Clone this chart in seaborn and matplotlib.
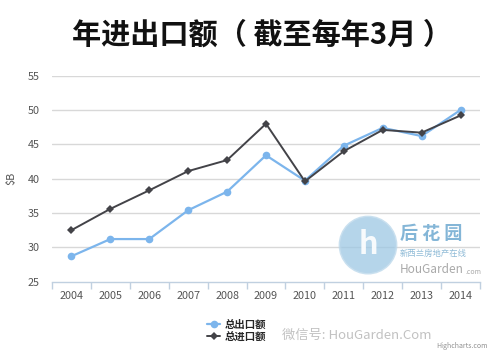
import numpy as np
import pandas as pd
import matplotlib
matplotlib.use("Agg")
import matplotlib.pyplot as plt
import seaborn as sns
from matplotlib.patches import Ellipse

# ── Data (NZ$ billions, year to March) ──
years = ["2004", "2005", "2006", "2007", "2008", "2009",
         "2010", "2011", "2012", "2013", "2014"]
exports = [28.7, 31.2, 31.2, 35.4, 38.1, 43.4, 39.7, 44.8, 47.4, 46.2, 50.0]
imports = [32.5, 35.6, 38.3, 41.1, 42.7, 48.0, 39.6, 44.0, 47.1, 46.7, 49.2]
series_names = ["总出口额", "总进口额"]
y_ticks = [25, 30, 35, 40, 45, 50, 55]

df = pd.DataFrame({"year": years, "exports": exports, "imports": imports})
df["pos"] = np.arange(len(years))

sns.set_theme(style="white")
plt.rcParams["font.family"] = ["Noto Sans CJK SC", "DejaVu Sans"]

fig = plt.figure(figsize=(5.0, 3.62), dpi=100)
ax = fig.add_axes([0.104, 0.222, 0.856, 0.569])

BLUE = "#7cb5ec"
DARK = "#434348"

sns.lineplot(data=df, x="pos", y="exports", ax=ax, color=BLUE, lw=1.6,
             marker="o", markersize=5.5, markeredgewidth=0, label=series_names[0])
sns.lineplot(data=df, x="pos", y="imports", ax=ax, color=DARK, lw=1.4,
             marker="D", markersize=4.2, markeredgewidth=0, label=series_names[1])

ax.set_xlim(-0.5, len(years) - 0.5)
ax.set_ylim(25, 55)
ax.set_yticks(y_ticks)
ax.set_yticklabels([str(t) for t in y_ticks])
ax.set_xticks(df["pos"])
ax.set_xticklabels(years)
ax.set_xticks(np.arange(-0.5, len(years)), minor=True)
ax.tick_params(axis="x", which="major", length=0, pad=7, labelsize=7.8, colors="#555555")
ax.tick_params(axis="x", which="minor", length=5, width=1, color="#c0d0e0", direction="out", bottom=True)
ax.tick_params(axis="y", length=0, pad=9, labelsize=7.8, colors="#555555")

for y in y_ticks[1:]:
    ax.axhline(y, color="#d8d8d8", lw=1, zorder=0)
for side in ["top", "right", "left"]:
    ax.spines[side].set_visible(False)
ax.spines["bottom"].set_color("#c0d0e0")
ax.spines["bottom"].set_linewidth(1)

ax.set_xlabel("")
ax.set_ylabel("$B", fontsize=7.8, color="#555555", labelpad=8)
ax.get_legend().remove()

# ── Title ──
fig.text(0.525, 0.905, "年进出口额（ 截至每年3月 ）", ha="center", va="center",
         fontsize=21, fontweight="bold", color="#111111")

# ── Legend ──
handles, labels = ax.get_legend_handles_labels()
fig.legend(handles, labels, loc="upper left", bbox_to_anchor=(0.395, 0.142),
           frameon=False, handlelength=1.3, handletextpad=0.4, labelspacing=0.15,
           prop={"size": 7.5, "weight": "bold"})

# ── Watermarks ──
fig.patches.append(Ellipse((0.736, 0.323), 0.112, 0.155, transform=fig.transFigure,
                           facecolor="#9cc7e3", edgecolor="#b8d6ea", lw=2, alpha=0.75, zorder=5))
fig.text(0.736, 0.323, "h", ha="center", va="center", fontsize=22, fontweight="bold",
         color="white", alpha=0.9, zorder=6)
fig.text(0.8, 0.355, "后 花 园", ha="left", va="center", fontsize=13, fontweight="bold",
         color="#6fa9d0", alpha=0.85)
fig.text(0.8, 0.3, "新西兰房地产在线", ha="left", va="center", fontsize=6,
         color="#7aaecf", alpha=0.85)
fig.text(0.8, 0.255, "HouGarden", ha="left", va="center", fontsize=8.5,
         color="#9a9a9a", alpha=0.85)
fig.text(0.93, 0.25, ".com", ha="left", va="center", fontsize=5, color="#9a9a9a", alpha=0.85)
fig.text(0.565, 0.072, "微信号: HouGarden.Com", ha="left", va="center", fontsize=9.5,
         color="#bbbbbb", alpha=0.9)
fig.text(0.975, 0.045, "Highcharts.com", ha="right", va="center", fontsize=5, color="#909090")

fig.savefig("out.png", dpi=100)
